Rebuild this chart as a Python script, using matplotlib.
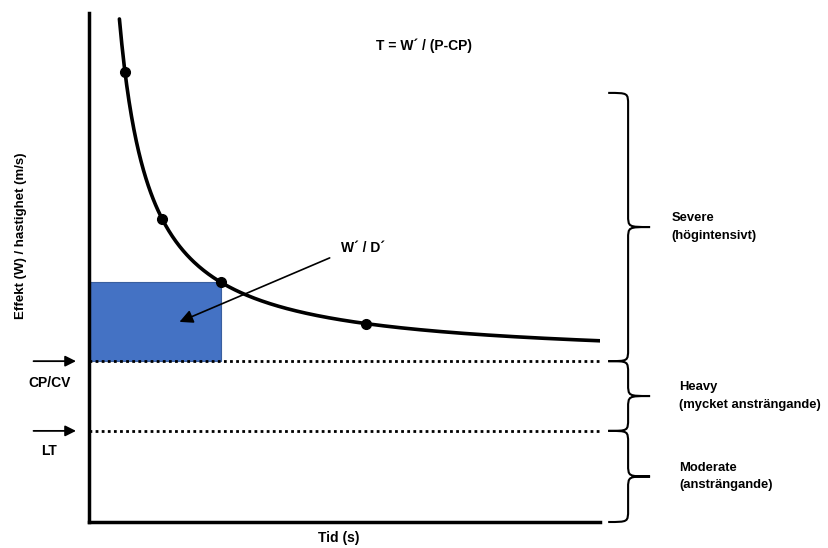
import numpy as np
import matplotlib
matplotlib.use('Agg')
import matplotlib.pyplot as plt
from matplotlib.path import Path
from matplotlib.patches import PathPatch

plt.rcParams['font.family'] = ['Liberation Sans', 'DejaVu Sans']

# critical power model: T = W' / (P - CP)
CP = 31.6          # CP/CV level
LT = 17.9          # lactate threshold level
W_PRIME = 400.0    # area of the blue box
T_START = 5.95
T_END = 100.0

marker_times = [7.05, 14.3, 25.8, 54.2]
box_time = 25.8

zone_names = ['Severe\n(högintensivt)', 'Heavy\n(mycket ansträngande)',
              'Moderate\n(ansträngande)']
zone_bottoms = [CP, LT, 0.0]
zone_tops = [84.3, CP, LT]

SIZE = 10
WEIGHT = 'bold'


def model(t):
  return CP + W_PRIME / np.asarray(t)


def brace(ax, y_top, y_bot, x_left=101.6, x_vert=105.5, x_tip=109.8, ry=2.4):
  ym = (y_top + y_bot) / 2
  verts = [
      (x_left, y_top),
      (x_vert, y_top), (x_vert, y_top), (x_vert, y_top - ry),
      (x_vert, ym + ry),
      (x_vert, ym), (x_vert, ym), (x_tip, ym),
      (x_vert, ym), (x_vert, ym), (x_vert, ym - ry),
      (x_vert, y_bot + ry),
      (x_vert, y_bot), (x_vert, y_bot), (x_left, y_bot),
  ]
  codes = [Path.MOVETO,
           Path.CURVE4, Path.CURVE4, Path.CURVE4,
           Path.LINETO,
           Path.CURVE4, Path.CURVE4, Path.CURVE4,
           Path.CURVE4, Path.CURVE4, Path.CURVE4,
           Path.LINETO,
           Path.CURVE4, Path.CURVE4, Path.CURVE4]
  ax.add_patch(PathPatch(Path(verts, codes), fill=False, lw=1.5,
                         edgecolor='black', clip_on=False))
  return ym


fig = plt.figure(figsize=(8.29, 5.48), dpi=100)
ax = fig.add_axes([89 / 829, 26 / 548, 511 / 829, 509 / 548])
ax.set_xlim(0, 100)
ax.set_ylim(0, 100)

for side in ['top', 'right']:
  ax.spines[side].set_visible(False)
for side in ['left', 'bottom']:
  ax.spines[side].set_linewidth(2.5)
  ax.spines[side].set_capstyle('projecting')
ax.set_xticks([])
ax.set_yticks([])

# W' box
ax.bar(0, model(box_time) - CP, bottom=CP, width=box_time, align='edge',
       color='#4472C4', edgecolor='#3a5f9f', lw=0.8, zorder=1)

# threshold lines
for level in [CP, LT]:
  ax.plot([0, 100], [level, level], color='black', lw=2,
          linestyle=(0, (1, 1.2)), zorder=2)

# curve + points
t = np.linspace(T_START, T_END, 400)
ax.plot(t, model(t), color='black', lw=2.6, solid_capstyle='round', zorder=3)
ax.plot(marker_times, model(marker_times), 'o', color='black', ms=7, zorder=4)

# arrows on the left
for level, label, dy in [(CP, 'CP/CV', -4.3), (LT, 'LT', -3.9)]:
  ax.annotate('', xy=(-2.0, level), xytext=(-11.4, level),
              arrowprops=dict(arrowstyle='-|>', color='black', lw=1.3,
                              mutation_scale=16),
              annotation_clip=False)
  ax.text(-7.8, level + dy, label, ha='center', va='center', fontsize=SIZE,
          fontweight=WEIGHT, clip_on=False)

# W'/D' arrow
ax.annotate('', xy=(17.2, 39.1), xytext=(47.6, 52.1),
            arrowprops=dict(arrowstyle='-|>', color='black', lw=1.2,
                            mutation_scale=20),
            annotation_clip=False)
ax.text(53.6, 53.9, 'W´ / D´', ha='center', va='center', fontsize=SIZE,
        fontweight=WEIGHT)

ax.text(65.6, 93.6, 'T = W´ / (P-CP)', ha='center', va='center',
        fontsize=SIZE, fontweight=WEIGHT)

# zone braces
for name, top, bot in zip(zone_names, zone_tops, zone_bottoms):
  ym = brace(ax, top, bot)
  x_text = 114.0 if name.startswith('Severe') else 115.5
  ax.text(x_text, ym, name, ha='left', va='center', fontsize=9.4,
          fontweight=WEIGHT, linespacing=1.6, clip_on=False)

ax.set_ylabel('Effekt (W) / hastighet (m/s)', fontsize=9.5, fontweight=WEIGHT)
ax.yaxis.set_label_coords(-0.121, 0.562)
ax.set_xlabel('Tid (s)', fontsize=SIZE, fontweight=WEIGHT)
ax.xaxis.set_label_coords(0.489, -0.018)

fig.savefig('out.png', dpi=100)
